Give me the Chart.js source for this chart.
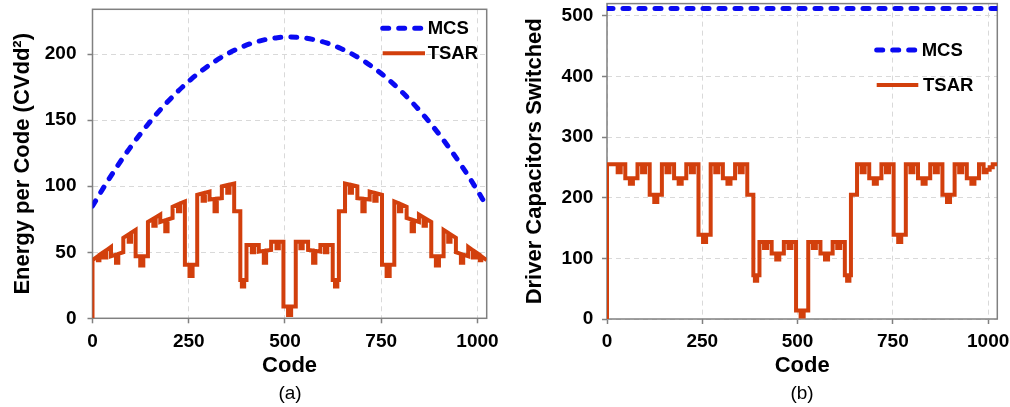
<!DOCTYPE html>
<html><head><meta charset="utf-8">
<script src="https://cdn.jsdelivr.net/npm/chart.js@4.4.1/dist/chart.umd.min.js"></script>
<style>
html,body{margin:0;padding:0;background:#fff;width:1010px;height:407px;overflow:hidden;}
canvas{position:absolute;top:0;}
#ca{left:0;} #cb{left:505px;}
.lab{position:absolute;font:19px "Liberation Sans",Arial,sans-serif;color:#000;width:100px;text-align:center;line-height:20px;}
</style></head><body>
<canvas id="ca" width="500" height="407"></canvas>
<canvas id="cb" width="505" height="407"></canvas>
<div class="lab" style="left:240px;top:383px">(a)</div>
<div class="lab" style="left:752px;top:383px">(b)</div>
<script>
// ---------- data ----------
const codeTicks = [0, 250, 500, 750, 1000];
const energyTicks = [0, 50, 100, 150, 200];
const switchedTicks = [0, 100, 200, 300, 400, 500];
const seriesNames = ['MCS', 'TSAR'];

// (a) MCS energy per code, read every 32 codes
const mcsEnergyCodes = [0,32,64,96,128,160,192,224,256,288,320,352,384,416,448,480,512,544,576,608,640,672,704,736,768,800,832,864,896,928,960,992,1024];
const mcsEnergy = [85,100.5,115,128.5,141,152.5,163,172.5,181,188.5,195,200.5,205,208.5,211,212.5,213,212.5,211,208.5,205,200.5,195,188.5,181,172.5,163,152.5,141,128.5,115,100.5,85];

// (a) TSAR energy per code, [code, value] vertices
const tsarEnergy = [
[0,0],[0,44],[14,47],[14,44],[18,44],[18,48],[28,50],[28,46],[36,46],[36,51.5],[48,54],
[48,47],[61,48.2],[61,42],[67,42],[67,48.8],[80,50],
[80,61],[94,63.6],[94,58],[100,58],[100,64.8],[112,67],
[112,47],[124,47],[124,40],[132,40],[132,47],[144,47],
[144,73],[158,75.4],[158,70],[164,70],[164,76.4],[176,78.5],
[176,73],[189,74.2],[189,66],[195,66],[195,74.8],[208,76],
[208,84.5],[222,86.3],[222,81],[228,81],[228,87],[240,88.5],
[240,40.5],[252,40.5],[252,32],[260,32],[260,40.5],[272,40.5],
[272,93.5],[286,94.6],[286,89],[292,89],[292,95],[304,96],
[304,90],[317,90.4],[317,81],[323,81],[323,90.6],[336,91],
[336,100],[350,100.9],[350,95],[356,95],[356,101.2],[368,102],
[368,81],[384,81],
[384,29],[388,29],[388,24],[394,24],[394,29],[400,29],
[400,55.5],[414,55.5],[414,50],[420,50],[420,55.5],[432,55.5],
[432,50.5],[445,51.1],[445,42],[451,42],[451,51.3],[464,51.8],
[464,58],[478,58],[478,53],[484,53],[484,58],[496,58],
[496,9],[508,9],[508,2.5],[516,2.5],[516,9],[528,9],
[528,58],[540,58],[540,53],[546,53],[546,58],[560,58],
[560,51.8],[573,51.3],[573,42],[579,42],[579,51.1],[592,50.5],
[592,55.5],[604,55.5],[604,50],[610,50],[610,55.5],[624,55.5],
[624,29],[630,29],[630,24],[636,24],[636,29],[640,29],
[640,81],[656,81],
[656,102],[668,101.2],[668,95],[674,95],[674,100.9],[688,100],
[688,91],[701,90.6],[701,81],[707,81],[707,90.4],[720,90],
[720,96],[732,95],[732,89],[738,89],[738,94.6],[752,93.5],
[752,40.5],[764,40.5],[764,32],[772,32],[772,40.5],[784,40.5],
[784,88.5],[796,87],[796,81],[802,81],[802,86.3],[816,84.5],
[816,76],[829,74.8],[829,66],[835,66],[835,74.2],[848,73],
[848,78.5],[860,76.4],[860,70],[866,70],[866,75.4],[880,73],
[880,47],[892,47],[892,40],[900,40],[900,47],[912,47],
[912,67],[924,64.8],[924,58],[930,58],[930,63.6],[944,61],
[944,50],[957,48.8],[957,42],[963,42],[963,48.2],[976,47],
[976,54],[988,51.5],[988,46],[996,46],[996,50],[1006,48],[1006,44],[1010,44],[1010,47],[1024,44]
];

// (b) MCS driver capacitors switched
const mcsSwitched = [[0,512],[1024,512]];

// (b) TSAR driver capacitors switched, [code, value] vertices
const tsarSwitched = [
[0,0],[0,255],
[28,255],[28,242],[36,242],[36,255],[48,255],[48,232],[60,232],[60,223],[68,223],[68,232],[80,232],[80,255],[92,255],[92,242],[100,242],[100,255],[112,255],
[112,205],[124,205],[124,193],[132,193],[132,205],[144,205],
[144,255],[156,255],[156,242],[164,242],[164,255],[176,255],[176,232],[188,232],[188,223],[196,223],[196,232],[208,232],[208,255],[220,255],[220,242],[228,242],[228,255],[240,255],
[240,139],[252,139],[252,127],[260,127],[260,139],[272,139],
[272,255],[284,255],[284,242],[292,242],[292,255],[304,255],[304,232],[316,232],[316,223],[324,223],[324,232],[336,232],[336,255],[348,255],[348,242],[356,242],[356,255],[368,255],
[368,205],[384,205],
[384,72],[388,72],[388,63],[394,63],[394,72],[400,72],
[400,127],[412,127],[412,117],[420,117],[420,127],[432,127],[432,108],[444,108],[444,98],[452,98],[452,108],[464,108],[464,127],[476,127],[476,117],[484,117],[484,127],[496,127],
[496,14],[508,14],[508,4],[516,4],[516,14],[528,14],
[528,127],[540,127],[540,117],[548,117],[548,127],[560,127],[560,108],[572,108],[572,98],[580,98],[580,108],[592,108],[592,127],[604,127],[604,117],[612,117],[612,127],[624,127],
[624,72],[630,72],[630,63],[636,63],[636,72],[640,72],
[640,205],[656,205],
[656,255],[668,255],[668,242],[676,242],[676,255],[688,255],[688,232],[700,232],[700,223],[708,223],[708,232],[720,232],[720,255],[732,255],[732,242],[740,242],[740,255],[752,255],
[752,139],[764,139],[764,127],[772,127],[772,139],[784,139],
[784,255],[796,255],[796,242],[804,242],[804,255],[816,255],[816,232],[828,232],[828,223],[836,223],[836,232],[848,232],[848,255],[860,255],[860,242],[868,242],[868,255],[880,255],
[880,205],[892,205],[892,193],[900,193],[900,205],[912,205],
[912,255],[924,255],[924,242],[932,242],[932,255],[944,255],[944,232],[956,232],[956,223],[964,223],[964,232],[976,232],[976,255],[988,255],[988,242],[996,242],[996,246],[1004,246],[1004,250],[1012,250],[1012,255],[1024,255]
];

// ---------- styling ----------
const FAM = '"Liberation Sans", Arial, Helvetica, sans-serif';
const tickFont = {family: FAM, size: 19, weight: 'bold'};
const titleFont = {family: FAM, size: 22, weight: 'bold'};
const BLUE = '#0a0af2';
const RED = '#d23f0c';
const GRID = '#d9d9d9';
const AXIS = '#808080';

const boxPlugin = {
  id: 'box',
  beforeDatasetsDraw(chart) {
    const {ctx, chartArea: a} = chart;
    ctx.save();
    ctx.strokeStyle = AXIS; ctx.lineWidth = 1.5; ctx.setLineDash([]);
    ctx.strokeRect(a.left, a.top, a.right - a.left, a.bottom - a.top);
    ctx.restore();
  }
};

function legendPlugin(entries) {
  return {
    id: 'lg',
    afterDatasetsDraw(chart) {
      const ctx = chart.ctx;
      ctx.save();
      entries.forEach(e => {
        const ds = chart.data.datasets[e.ds];
        ctx.beginPath();
        ctx.strokeStyle = ds.borderColor;
        ctx.lineWidth = ds.borderWidth;
        ctx.setLineDash(ds.borderDash || []);
        ctx.lineCap = ds.borderCapStyle || 'butt';
        ctx.moveTo(e.x0, e.y); ctx.lineTo(e.x1, e.y); ctx.stroke();
        ctx.setLineDash([]);
        ctx.fillStyle = '#000';
        ctx.font = 'bold 18.5px ' + FAM;
        ctx.textBaseline = 'middle';
        ctx.fillText(ds.label, e.tx, e.y + 1);
      });
      ctx.restore();
    }
  };
}

const toXY = arr => arr.map(p => ({x: p[0], y: p[1]}));

function axisCommon() {
  return {
    grid: {color: GRID, lineWidth: 1, drawTicks: true, tickLength: 5, tickColor: AXIS, tickWidth: 1.5, tickBorderDash: []},
    border: {display: false, dash: [5, 4]}
  };
}

function makeChart(id, o) {
  const xc = axisCommon(), yc = axisCommon();
  return new Chart(document.getElementById(id), {
    type: 'line',
    data: {datasets: [
      {label: seriesNames[0], data: o.mcs, borderColor: BLUE, backgroundColor: BLUE, borderWidth: 5,
       borderDash: [6, 10], borderCapStyle: 'round', pointRadius: 0, cubicInterpolationMode: 'monotone', tension: 0.4, fill: false},
      {label: seriesNames[1], data: o.tsar, borderColor: RED, backgroundColor: RED, borderWidth: 4,
       borderJoinStyle: 'miter', borderCapStyle: 'butt', pointRadius: 0, tension: 0, fill: false}
    ]},
    options: {
      responsive: false, animation: false, devicePixelRatio: 1,
      layout: {padding: {top: o.top, right: o.right, left: 0, bottom: 0}},
      plugins: {legend: {display: false}, tooltip: {enabled: false}},
      scales: {
        x: {
          type: 'linear', min: 0, max: 1024,
          afterBuildTicks: s => { s.ticks = codeTicks.map(v => ({value: v})); },
          afterFit: s => { s.height = o.xH; s.paddingLeft = 0; s.paddingRight = 0; },
          ticks: {font: tickFont, color: '#000', padding: o.xPad, maxRotation: 0, autoSkip: false, callback: v => String(v)},
          grid: xc.grid, border: xc.border,
          title: {display: true, text: 'Code', font: titleFont, color: '#000', padding: {top: 0, bottom: o.xTitlePad}}
        },
        y: {
          type: 'linear', min: 0, max: o.yMax,
          afterBuildTicks: s => { s.ticks = o.yTicks.map(v => ({value: v})); },
          afterFit: s => { s.width = o.yW; s.paddingTop = 0; s.paddingBottom = 0; },
          ticks: {font: tickFont, color: '#000', padding: o.yPad, callback: v => String(v)},
          grid: yc.grid, border: yc.border,
          title: {display: true, text: o.yTitle, font: titleFont, color: '#000', padding: {top: o.yTitlePad, bottom: 0}}
        }
      }
    },
    plugins: [boxPlugin, legendPlugin(o.legend)]
  });
}

makeChart('ca', {
  mcs: mcsEnergyCodes.map((c, i) => ({x: c, y: mcsEnergy[i]})),
  tsar: toXY(tsarEnergy),
  top: 9.3, right: 13.3, xH: 88.7, xPad: 7, xTitlePad: 28,
  yMax: 234, yTicks: energyTicks, yW: 92.5, yPad: 11, yTitlePad: 10,
  yTitle: 'Energy per Code (CVdd²)',
  legend: [{ds: 0, x0: 382.7, x1: 425, y: 28.3, tx: 427.7}, {ds: 1, x0: 382.7, x1: 425, y: 53.3, tx: 427.7}]
});

makeChart('cb', {
  mcs: toXY(mcsSwitched),
  tsar: toXY(tsarSwitched),
  top: 3.6, right: 12.7, xH: 88, xPad: 6.3, xTitlePad: 27.8,
  yMax: 520, yTicks: switchedTicks, yW: 102, yPad: 8.7, yTitlePad: 17,
  yTitle: 'Driver Capacitors Switched',
  legend: [{ds: 0, x0: 371.7, x1: 413.3, y: 50, tx: 416.7}, {ds: 1, x0: 371.7, x1: 413.3, y: 85, tx: 418}]
});
</script></body></html>
